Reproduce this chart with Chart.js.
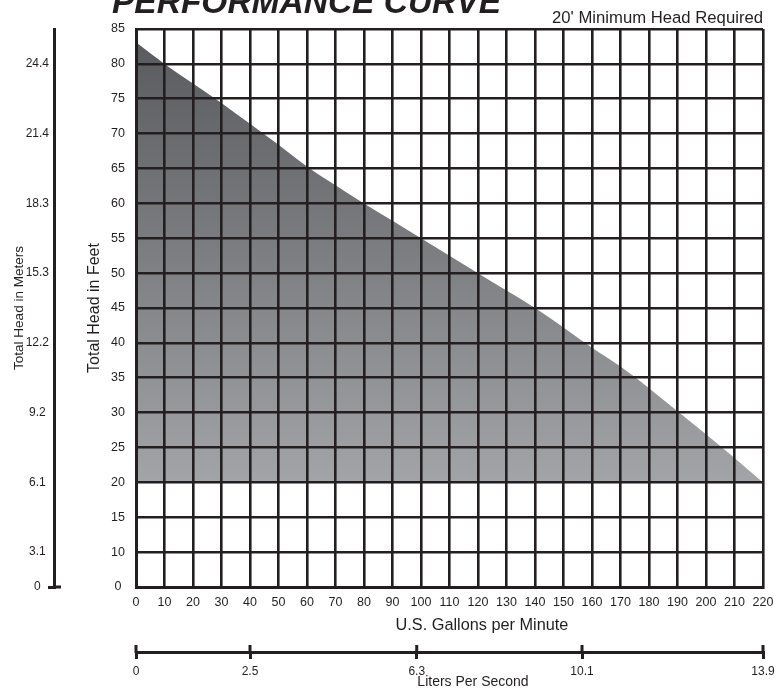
<!DOCTYPE html>
<html>
<head>
<meta charset="utf-8">
<script src="https://cdn.jsdelivr.net/npm/chart.js@4"></script>
<style>
html, body { margin: 0; padding: 0; background: #fff; }
#wrap { width: 784px; height: 692px; }
</style>
</head>
<body>
<div id="wrap"><canvas id="pump" width="784" height="692"></canvas></div>
<script>
// flow in US gallons per minute, head in feet
var gallons  = [0, 10, 20, 30, 40, 50, 60, 70, 80, 90, 100, 110, 120, 130, 140, 150, 160, 170, 180, 190, 200, 210, 220];
var headFeet = [83.1, 80, 77.2, 74.4, 71.4, 68.4, 65.3, 62.6, 60, 57.5, 55, 52.5, 50, 47.5, 45, 42.2, 39.3, 36.6, 33.5, 30.2, 26.9, 23.5, 20];
var minimumHead = 20;

// the feet axis has no 5 row, the bottom row is labelled 0
var feetTickLabels = ['0', '10', '15', '20', '25', '30', '35', '40', '45', '50', '55', '60', '65', '70', '75', '80', '85'];

var meterTicks   = ['24.4', '21.4', '18.3', '15.3', '12.2', '9.2', '6.1', '3.1', '0'];
var meterTickAt  = [80, 70, 60, 50, 40, 30, 20, 10, 5];
var literTicks   = ['0', '2.5', '6.3', '10.1', '13.9'];
var literTickAt  = [0, 40, 98.5, 156.5, 220];

var ink = '#231f20';
var fam = '"Liberation Sans", Arial, Helvetica, sans-serif';

var freeText = {
    id: 'freeText',
    afterDraw: function (chart) {
        var c = chart.ctx;
        var m = chart.scales.m, l = chart.scales.l;
        c.save();
        // tick marks that cross the meter and liter lines
        c.strokeStyle = ink;
        c.lineWidth = 3;
        c.beginPath();
        var y0 = m.getPixelForValue(5);
        c.moveTo(m.right - 1, y0);
        c.lineTo(m.right + 7, y0);
        literTickAt.forEach(function (v) {
            var x = l.getPixelForValue(v);
            c.moveTo(x, l.top + 1);
            c.lineTo(x, l.top - 7);
        });
        c.stroke();

        c.fillStyle = ink;
        c.textBaseline = 'alphabetic';
        c.textAlign = 'left';
        c.font = 'italic bold 33.5px ' + fam;
        c.fillText('PERFORMANCE CURVE', 112, 13);
        c.textAlign = 'right';
        c.font = '16.7px ' + fam;
        c.fillText("20' Minimum Head Required", 763, 22.5);
        c.textAlign = 'center';
        c.font = '16.3px ' + fam;
        c.fillText('U.S. Gallons per Minute', 482, 630);
        c.font = '14px ' + fam;
        c.fillText('Liters Per Second', 473, 686);
        c.restore();
    }
};

function shade(context) {
    var chart = context.chart;
    if (!chart.chartArea) return '#808184';
    var y = chart.scales.y;
    var g = chart.ctx.createLinearGradient(0, y.getPixelForValue(83), 0, y.getPixelForValue(minimumHead));
    g.addColorStop(0, '#5a5b5e');
    g.addColorStop(1, '#a3a4a7');
    return g;
}

var chartPump = new Chart(document.getElementById('pump'), {
    type: 'line',
    data: {
        datasets: [{
            label: 'Head',
            data: gallons.map(function (g, i) { return { x: g, y: headFeet[i] }; }),
            xAxisID: 'x',
            yAxisID: 'y',
            borderWidth: 0,
            pointRadius: 0,
            cubicInterpolationMode: 'monotone',
            fill: { value: minimumHead },
            backgroundColor: shade
        }]
    },
    options: {
        responsive: false,
        animation: false,
        layout: { padding: { top: 29, right: 21, bottom: 0, left: 0 } },
        plugins: { legend: { display: false }, tooltip: { enabled: false } },
        scales: {
            x: {
                type: 'linear', position: 'bottom', min: 0, max: 220,
                ticks: { stepSize: 10, autoSkip: false, maxRotation: 0, color: ink, padding: 8, font: { family: fam, size: 12.5 } },
                grid: { color: ink, lineWidth: 2.6, drawTicks: false, z: 1 },
                border: { color: ink, width: 3, z: 1 },
                afterFit: function (s) { s.height = 65; }
            },
            l: {
                type: 'linear', position: 'bottom', min: 0, max: 220, weight: 1,
                afterBuildTicks: function (s) { s.ticks = literTickAt.map(function (v) { return { value: v }; }); },
                ticks: { autoSkip: false, maxRotation: 0, color: ink, padding: 5, font: { family: fam, size: 12 },
                         callback: function (v, i) { return literTicks[i]; } },
                grid: { drawOnChartArea: false, color: ink, lineWidth: 3, tickLength: 7 },
                border: { color: ink, width: 3 },
                afterFit: function (s) { s.height = 40; }
            },
            y: {
                type: 'linear', position: 'left', min: 5, max: 85,
                ticks: { stepSize: 5, crossAlign: 'center', color: ink, padding: 11, font: { family: fam, size: 12.5 },
                         callback: function (v, i) { return feetTickLabels[i]; } },
                grid: { color: ink, lineWidth: 2.6, drawTicks: false, z: 1 },
                border: { color: ink, width: 3, z: 1 },
                title: { display: true, text: 'Total Head in Feet', color: ink, font: { family: fam, size: 16 }, padding: { top: 31, bottom: 0 } },
                afterFit: function (s) { s.width = 82; }
            },
            m: {
                type: 'linear', position: 'left', min: 5, max: 85, weight: 1,
                afterBuildTicks: function (s) { s.ticks = meterTickAt.map(function (v) { return { value: v }; }); },
                ticks: { crossAlign: 'center', color: ink, padding: -1, font: { family: fam, size: 12 },
                         callback: function (v, i) { return meterTicks[i]; } },
                grid: { drawOnChartArea: false, lineWidth: 3, tickLength: 6,
                        color: function (ctx) { return ctx.tick && ctx.tick.value === 5 ? ink : 'rgba(0,0,0,0)'; } },
                border: { color: ink, width: 3 },
                title: { display: true, text: 'Total Head in Meters', color: ink, font: { family: fam, size: 13.5 }, padding: { top: 11, bottom: 0 } },
                afterFit: function (s) { s.width = 54; }
            }
        }
    },
    plugins: [freeText]
});
</script>
</body>
</html>
